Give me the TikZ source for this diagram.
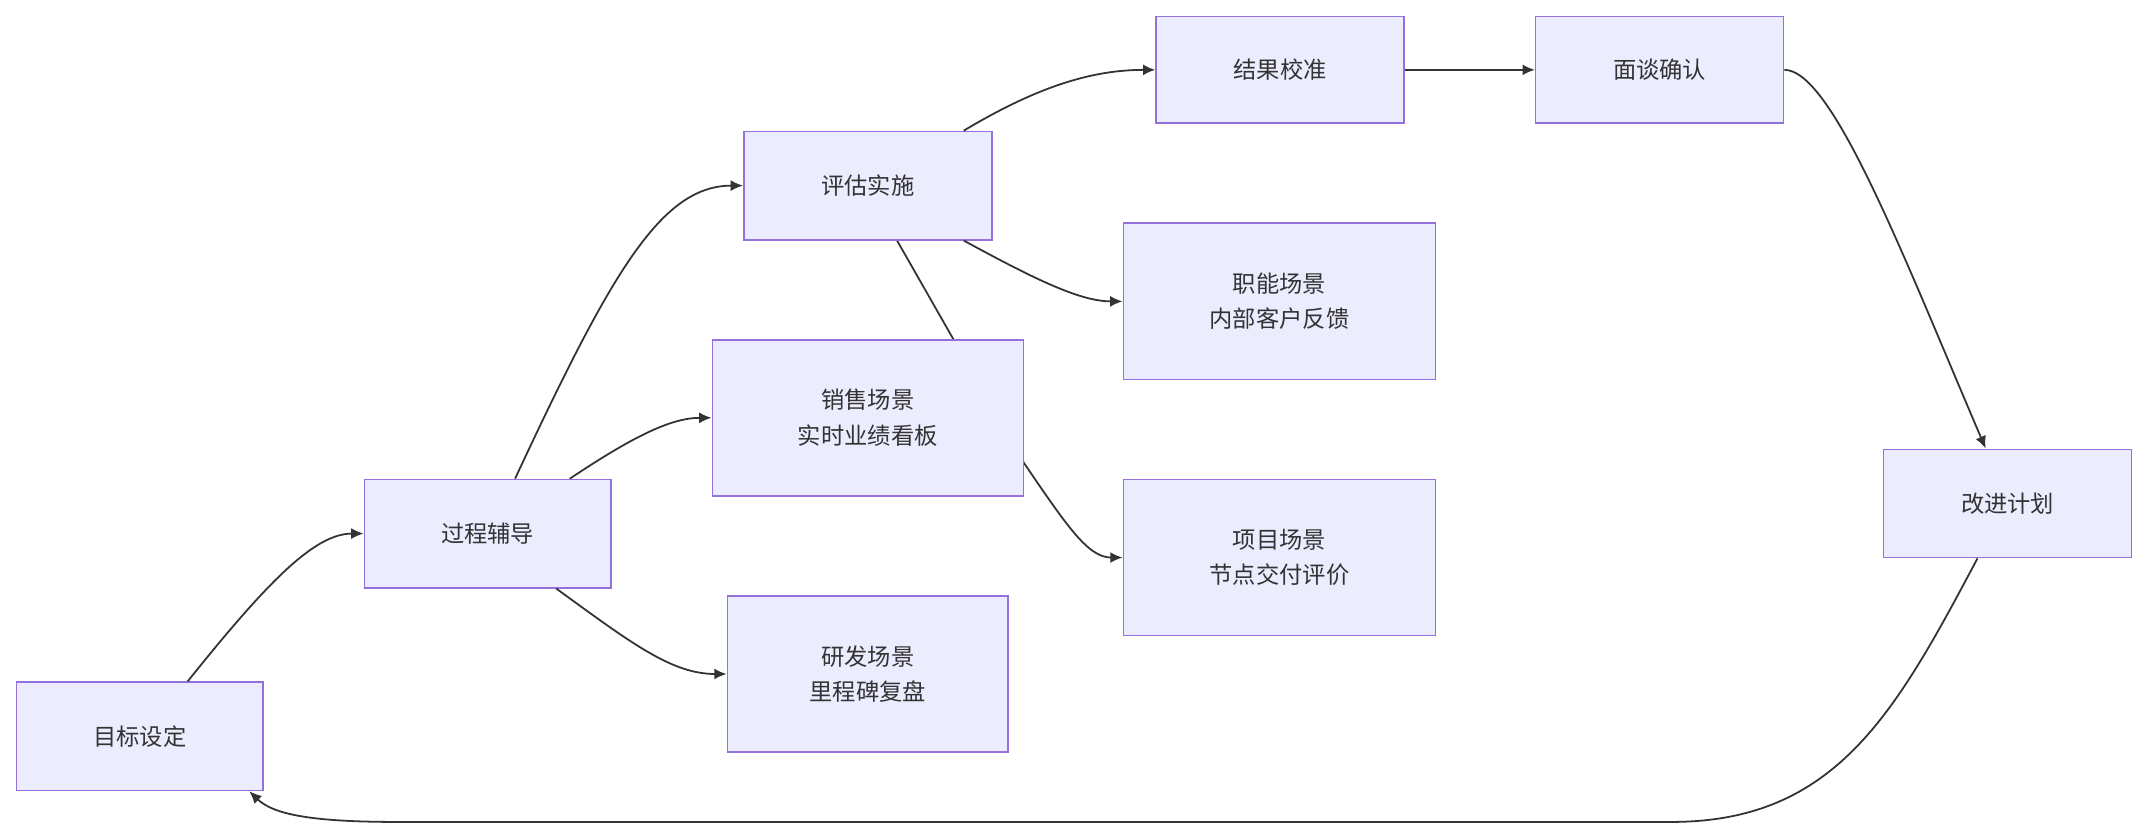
\documentclass[tikz,border=0pt]{standalone}
\usepackage{fontspec}
\setmainfont{Noto Sans CJK SC}
\usetikzlibrary{arrows.meta}
\definecolor{nf}{HTML}{ECECFF}
\definecolor{nb}{HTML}{9370DB}
\definecolor{ln}{HTML}{333333}
\begin{document}
\begin{tikzpicture}[x=1pt,y=-1pt,
 box/.style={draw=nb,fill=nf,line width=1.2pt,align=center,inner sep=0pt,font=\fontsize{17}{26}\selectfont,text=ln},
 e/.style={draw=ln,line width=1.3pt,-{Latex[length=9pt,width=8pt]}}]
\useasboundingbox (0,0) rectangle (1568,612);
\fill[white] (0,0) rectangle (1568,612);
\coordinate (p0) at (102,537.5);
\coordinate (p1) at (356,389.5);
\coordinate (p2) at (633.5,135.5);
\coordinate (p3) at (633.5,305);
\coordinate (p4) at (633.5,492);
\coordinate (p5) at (934.5,51);
\coordinate (p6) at (934,220);
\coordinate (p7) at (934,407);
\coordinate (p8) at (1211.5,51);
\coordinate (p9) at (1465.5,367.5);
% edge behind sales node
\draw[e] ([xshift=21pt]p2) ++(0,39.5) coordinate (q0) -- ++(93,163) .. controls ++(32,47) and ++(-25,0) .. ++(72,69);
\node[box,minimum width=180pt,minimum height=79pt] (a) at (p0) {目标设定};
\node[box,minimum width=180pt,minimum height=79pt] (b) at (p1) {过程辅导};
\node[box,minimum width=181pt,minimum height=79pt] (c) at (p2) {评估实施};
\node[box,minimum width=227pt,minimum height=114pt] (d) at (p3) {销售场景\\实时业绩看板};
\node[box,minimum width=205pt,minimum height=114pt] (f) at (p4) {研发场景\\里程碑复盘};
\node[box,minimum width=181pt,minimum height=78pt] (g) at (p5) {结果校准};
\node[box,minimum width=228pt,minimum height=114pt] (h) at (p6) {职能场景\\内部客户反馈};
\node[box,minimum width=228pt,minimum height=114pt] (i) at (p7) {项目场景\\节点交付评价};
\node[box,minimum width=181pt,minimum height=78pt] (j) at (p8) {面谈确认};
\node[box,minimum width=181pt,minimum height=79pt] (k) at (p9) {改进计划};
\draw[e] ([xshift=35pt]a.north) .. controls +(60,-75) and +(-35,0) .. (b.west);
\draw[e] ([xshift=20pt]b.north) .. controls +(70,-150) and +(-60,0) .. (c.west);
\draw[e] ([xshift=60pt]b.north) .. controls +(45,-30) and +(-30,0) .. (d.west);
\draw[e] ([xshift=50pt]b.south) .. controls +(55,40) and +(-40,0) .. (f.west);
\draw[e] ([xshift=70pt]c.north) .. controls +(55,-33) and +(-45,0) .. (g.west);
\draw[e] ([xshift=70pt]c.south) .. controls +(55,30) and +(-30,0) .. (h.west);
\draw[e] (g.east) -- (j.west);
\draw[e] (j.east) .. controls +(35,0) and +(-60,-140) .. ([xshift=-16pt]k.north);
\draw[e] ([xshift=-22pt]k.south) .. controls +(-60,113) and +(120,0) .. (1220,600) -- (290,600) .. controls (230,600) and (200,595) .. ([xshift=80pt]a.south);
\end{tikzpicture}
\end{document}
